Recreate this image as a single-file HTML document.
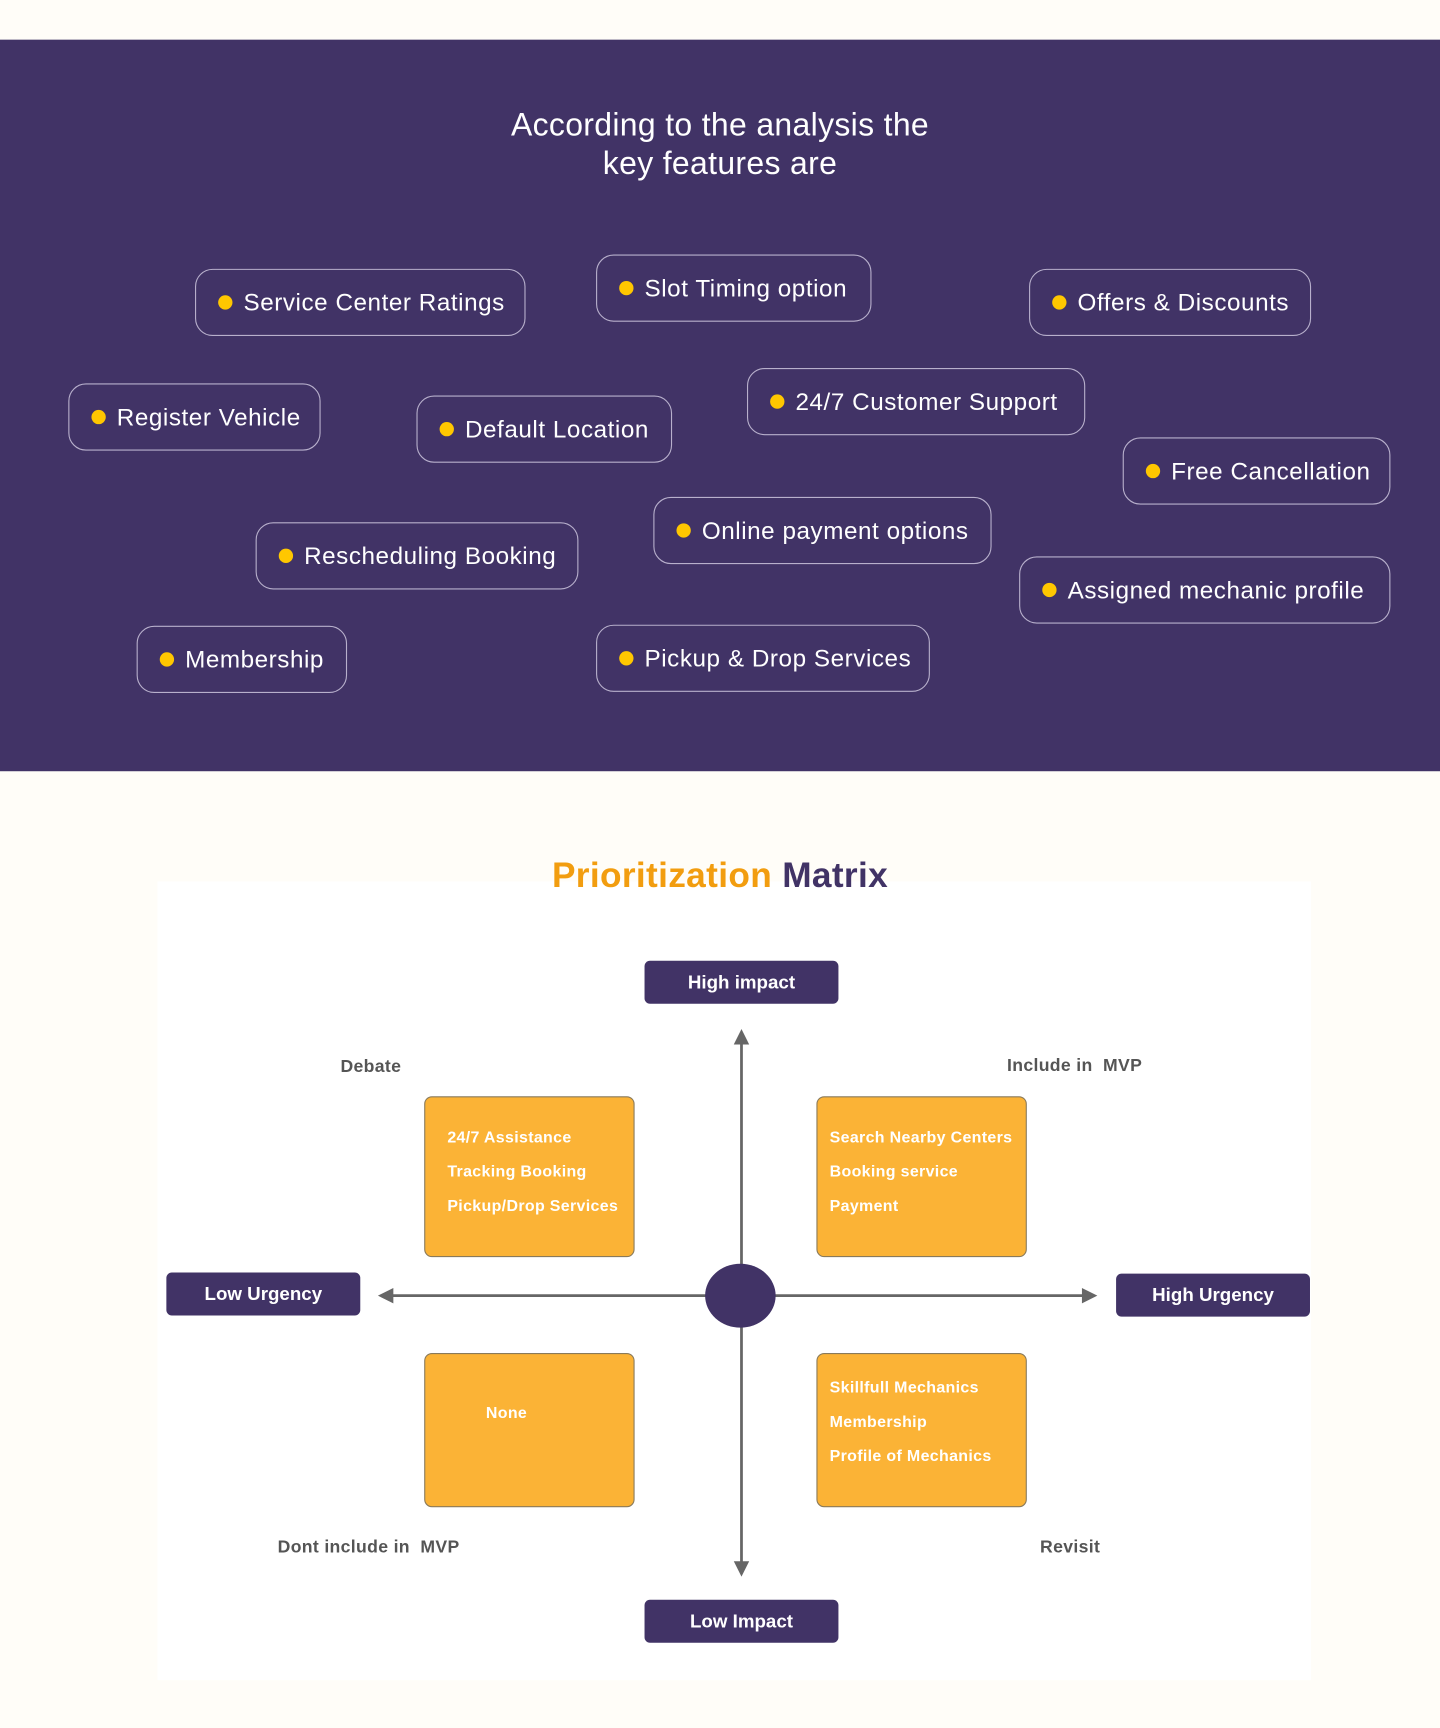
<!DOCTYPE html>
<html><head><meta charset="utf-8"><style>
*{margin:0;padding:0;box-sizing:border-box}
body{width:1440px;height:1728px;background:#fffdf8;overflow:hidden;font-family:"Liberation Sans",sans-serif}
#c{position:absolute;left:0;top:0;width:1307px;height:1568px;transform:scale(1.10176);transform-origin:0 0}
.band{position:absolute;left:0;top:36px;width:1307px;height:664px;background:#413366}
.t{position:absolute;left:0;width:1307px;text-align:center;color:#fff;font-size:29px;line-height:35px;letter-spacing:0.3px}
.p{position:absolute;border:1.5px solid #b8b0cc;border-radius:16px;color:#fff;font-size:22px;letter-spacing:0.5px;display:flex;align-items:center;padding-left:20px;height:61px;white-space:nowrap}
.p:before{content:"";width:13px;height:13px;border-radius:50%;background:#ffc700;margin-right:10px;flex:none}
.wh{position:absolute;left:143px;top:800px;width:1047px;height:725px;background:#fff}
.lb{position:absolute;background:#413366;color:#fff;font-weight:bold;font-size:17px;border-radius:5px;height:39px;width:176px;display:flex;align-items:center;justify-content:center}
.ob{position:absolute;background:#fbb336;border:1px solid #8a7a5a;border-radius:7px;width:191px;color:#fff;font-weight:bold;font-size:14.5px;letter-spacing:0.3px;line-height:31px;padding:22px 0 0 11px}
.q{position:absolute;color:#555;font-weight:bold;font-size:16px;letter-spacing:0.3px}
</style></head><body><div id="c">
<div class="band"></div>
<div class="t" style="top:97px">According to the analysis the</div>
<div class="t" style="top:132px">key features are</div>
<div class="p" style="left:177px;top:244px;width:300px">Service Center Ratings</div>
<div class="p" style="left:541px;top:231px;width:250px">Slot Timing option</div>
<div class="p" style="left:934px;top:244px;width:256px">Offers &amp; Discounts</div>
<div class="p" style="left:62px;top:348px;width:229px">Register Vehicle</div>
<div class="p" style="left:378px;top:359px;width:232px">Default Location</div>
<div class="p" style="left:678px;top:334px;width:307px">24/7 Customer Support</div>
<div class="p" style="left:1019px;top:397px;width:243px">Free Cancellation</div>
<div class="p" style="left:593px;top:451px;width:307px">Online payment options</div>
<div class="p" style="left:232px;top:474px;width:293px">Rescheduling Booking</div>
<div class="p" style="left:925px;top:505px;width:337px">Assigned mechanic profile</div>
<div class="p" style="left:124px;top:568px;width:191px">Membership</div>
<div class="p" style="left:541px;top:567px;width:303px">Pickup &amp; Drop Services</div>
<div class="wh"></div>
<div style="position:absolute;left:0;width:1307px;top:776px;text-align:center;font-size:32px;font-weight:bold;letter-spacing:0.3px"><span style="color:#f29d0f">Prioritization</span> <span style="color:#413366">Matrix</span></div>
<svg style="position:absolute;left:0;top:0" width="1307" height="1568">
<line x1="673" y1="945" x2="673" y2="1420" stroke="#666" stroke-width="2.5"/>
<polygon points="673,934 666,948 680,948" fill="#666"/>
<polygon points="673,1431 666,1417 680,1417" fill="#666"/>
<line x1="354" y1="1176" x2="985" y2="1176" stroke="#666" stroke-width="2.5"/>
<polygon points="343,1176 357,1169 357,1183" fill="#666"/>
<polygon points="996,1176 982,1169 982,1183" fill="#666"/>
<ellipse cx="672" cy="1176" rx="32" ry="29" fill="#413366"/>
</svg>
<div class="lb" style="left:585px;top:872px">High impact</div>
<div class="lb" style="left:151px;top:1155px">Low Urgency</div>
<div class="lb" style="left:1013px;top:1156px">High Urgency</div>
<div class="lb" style="left:585px;top:1452px">Low Impact</div>
<div class="ob" style="left:385px;top:995px;height:146px;padding-left:20px">24/7 Assistance<br>Tracking Booking<br>Pickup/Drop Services</div>
<div class="ob" style="left:741px;top:995px;height:146px">Search Nearby Centers<br>Booking service<br>Payment</div>
<div class="ob" style="left:385px;top:1228px;height:140px;padding:39px 0 0 55px">None</div>
<div class="ob" style="left:741px;top:1228px;height:140px;padding-top:16px">Skillfull Mechanics<br>Membership<br>Profile of Mechanics</div>
<div class="q" style="left:309px;top:960px">Debate</div>
<div class="q" style="left:914px;top:959px">Include in &nbsp;MVP</div>
<div class="q" style="left:252px;top:1396px">Dont include in &nbsp;MVP</div>
<div class="q" style="left:944px;top:1396px">Revisit</div>
</div></body></html>
